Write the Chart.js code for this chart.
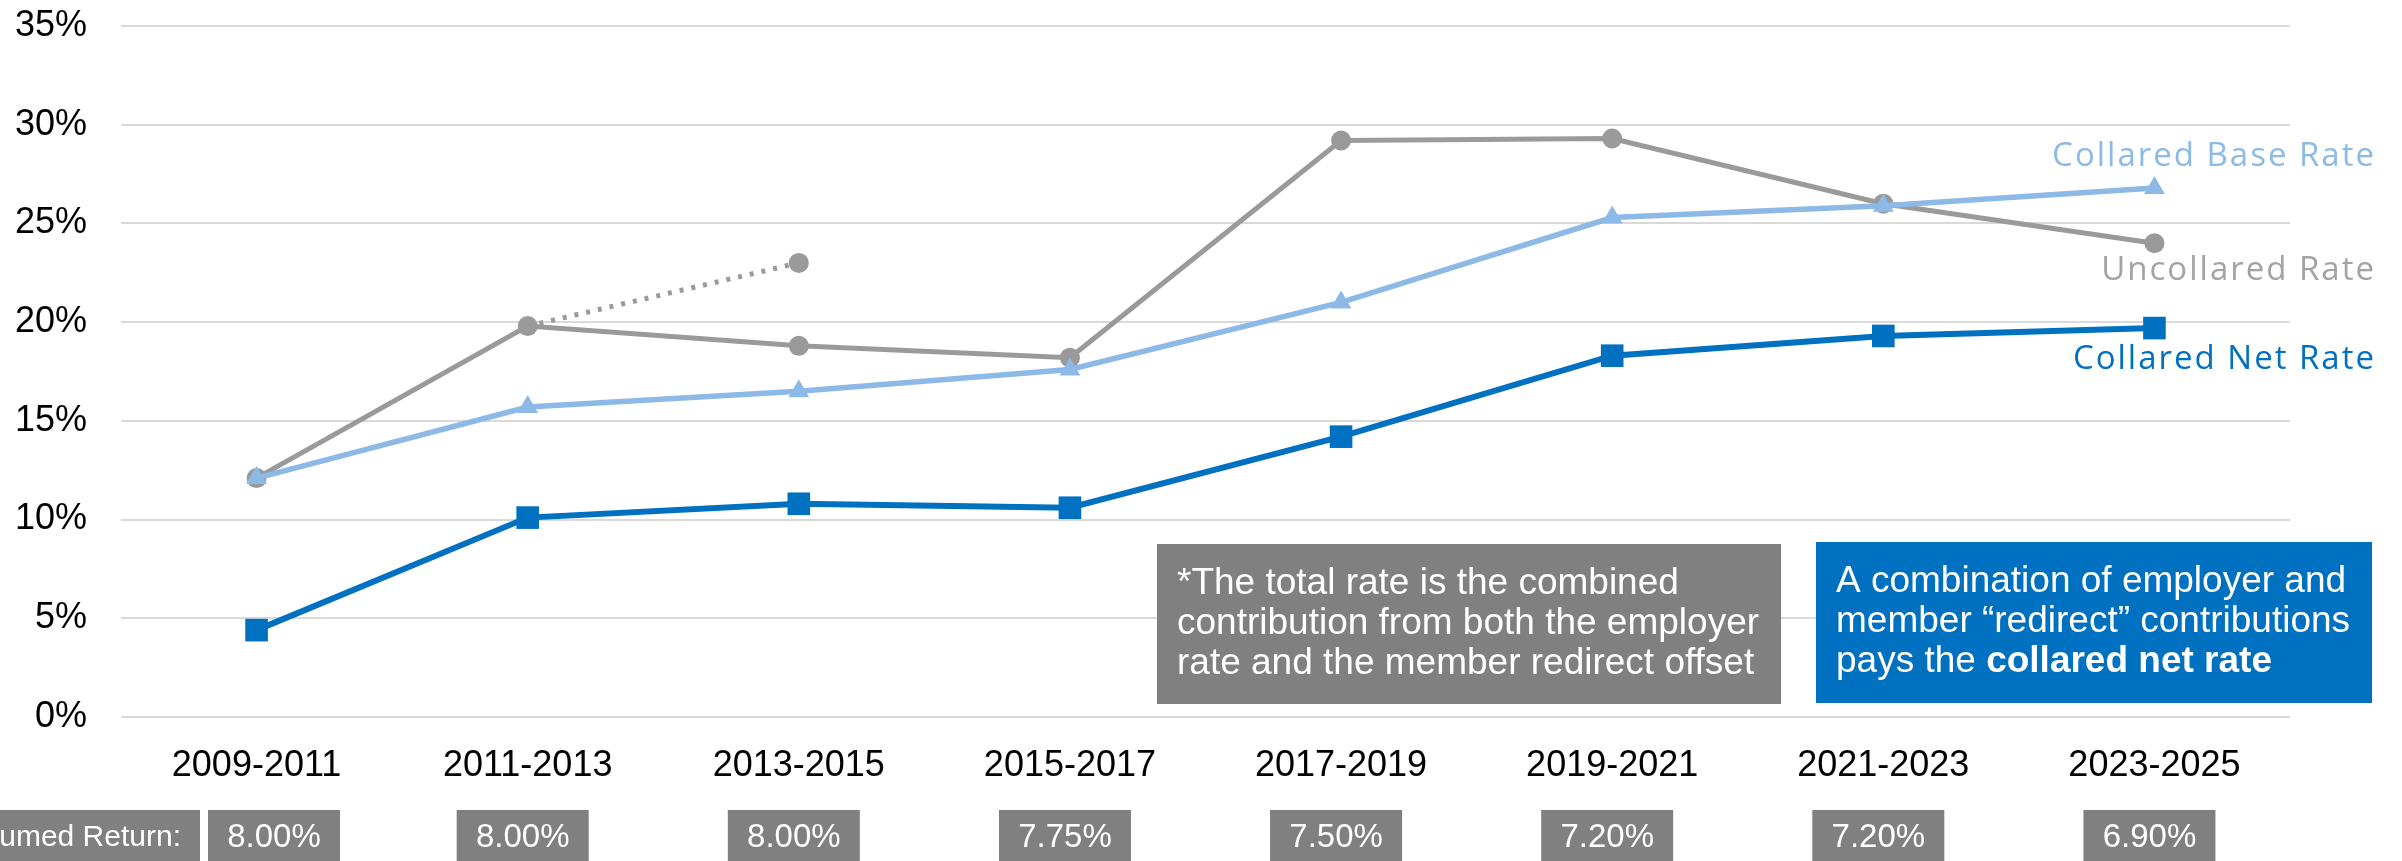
<!DOCTYPE html>
<html>
<head>
<meta charset="utf-8">
<script src="https://cdn.jsdelivr.net/npm/chart.js@4.4.1/dist/chart.umd.min.js"></script>
<style>
  html, body { margin: 0; padding: 0; background: #fff; }
  #wrap { width: 2402px; height: 861px; }
</style>
</head>
<body>
<div id="wrap"><canvas id="chart" width="2402" height="861"></canvas></div>
<script>
const periods = ['2009-2011', '2011-2013', '2013-2015', '2015-2017', '2017-2019', '2019-2021', '2021-2023', '2023-2025'];

// contribution rates, % of payroll
const uncollaredRate = [12.1, 19.8, 18.8, 18.2, 29.2, 29.3, 26.0, 24.0];
const uncollaredProjected = [null, 19.8, 23.0, null, null, null, null, null];
const collaredBaseRate = [12.1, 15.7, 16.5, 17.6, 21.0, 25.3, 25.9, 26.8];
const collaredNetRate = [4.4, 10.1, 10.8, 10.6, 14.2, 18.3, 19.3, 19.7];

const assumedReturns = ['8.00%', '8.00%', '8.00%', '7.75%', '7.50%', '7.20%', '7.20%', '6.90%'];
const returnRowLabel = 'Assumed Return:';

const totalRateNote = [
    '*The total rate is the combined',
    'contribution from both the employer',
    'rate and the member redirect offset'
];
const netRateNote = [
    [['A combination of employer and', false]],
    [['member \u201credirect\u201d contributions', false]],
    [['pays the ', false], ['collared net rate', true]]
];

const ARIAL = "'Liberation Sans', Arial, sans-serif";
const DARK_BLUE = '#0070C0';
const LIGHT_BLUE = '#8DB9E6';
const GREY = '#9A9A9A';
const BOX_GREY = '#808080';

function drawNote(ctx, box, lines, fill, size) {
    ctx.save();
    ctx.fillStyle = fill;
    ctx.fillRect(box.x, box.y, box.w, box.h);
    ctx.fillStyle = '#fff';
    ctx.textAlign = 'left';
    ctx.textBaseline = 'alphabetic';
    lines.forEach((parts, i) => {
        let x = box.x + box.pad;
        const y = box.y + box.first + i * 40;
        parts.forEach(([text, bold]) => {
            ctx.font = (bold ? 'bold ' : '') + size + 'px ' + ARIAL;
            ctx.fillText(text, x, y);
            x += ctx.measureText(text).width;
        });
    });
    ctx.restore();
}

const overlay = {
    id: 'overlay',
    afterDatasetsDraw(chart) {
        const ctx = chart.ctx;
        const area = chart.chartArea;
        const xs = chart.scales.x;

        // series names next to the last point of each line
        ctx.save();
        ctx.textAlign = 'right';
        ctx.textBaseline = 'alphabetic';
        ctx.font = "33px 'Open Sans', sans-serif";
        ctx.letterSpacing = '2px';
        chart.data.datasets.forEach((ds, i) => {
            if (!ds.endLabel) return;
            const pts = chart.getDatasetMeta(i).data;
            const last = pts[pts.length - 1];
            ctx.fillStyle = ds.endLabel.color;
            ctx.fillText(ds.endLabel.text, area.right + 86, last.y + ds.endLabel.dy);
        });
        ctx.restore();

        // explanatory notes
        drawNote(ctx, { x: 1157, y: 544, w: 624, h: 160, pad: 20, first: 50 },
            totalRateNote.map(t => [[t, false]]), BOX_GREY, 37);
        drawNote(ctx, { x: 1816, y: 542, w: 556, h: 161, pad: 20, first: 50 },
            netRateNote, DARK_BLUE, 37);

        // assumed return row under the axis
        const rowTop = 810, boxW = 132;
        ctx.save();
        ctx.textBaseline = 'alphabetic';
        ctx.fillStyle = BOX_GREY;
        ctx.fillRect(0, rowTop, 200, 60);
        ctx.fillStyle = '#fff';
        ctx.textAlign = 'right';
        ctx.font = '30px ' + ARIAL;
        ctx.fillText(returnRowLabel, 181, rowTop + 36);
        ctx.font = '33px ' + ARIAL;
        ctx.textAlign = 'center';
        let prevRight = 200;
        assumedReturns.forEach((r, i) => {
            const cx = Math.max(xs.getPixelForValue(i) - 5, prevRight + 8 + boxW / 2);
            ctx.fillStyle = BOX_GREY;
            ctx.fillRect(cx - boxW / 2, rowTop, boxW, 60);
            ctx.fillStyle = '#fff';
            ctx.fillText(r, cx, rowTop + 37);
            prevRight = cx + boxW / 2;
        });
        ctx.restore();
    }
};

const tickFont = { family: ARIAL, size: 36 };

new Chart(document.getElementById('chart').getContext('2d'), {
    type: 'line',
    data: {
        labels: periods,
        datasets: [
            {
                label: 'Collared Net Rate',
                data: collaredNetRate,
                borderColor: DARK_BLUE,
                backgroundColor: DARK_BLUE,
                borderWidth: 6,
                pointStyle: 'rect',
                pointRadius: 16,
                pointBorderWidth: 0,
                order: 1,
                endLabel: { text: 'Collared Net Rate', color: DARK_BLUE, dy: 41 }
            },
            {
                label: 'Collared Base Rate',
                data: collaredBaseRate,
                borderColor: LIGHT_BLUE,
                backgroundColor: LIGHT_BLUE,
                borderWidth: 5.5,
                pointStyle: 'triangle',
                pointRadius: 12,
                pointBorderWidth: 0,
                order: 2,
                endLabel: { text: 'Collared Base Rate', color: LIGHT_BLUE, dy: -22 }
            },
            {
                label: 'Uncollared Rate',
                data: uncollaredRate,
                borderColor: GREY,
                backgroundColor: GREY,
                borderWidth: 5,
                pointStyle: 'circle',
                pointRadius: 10,
                pointBorderWidth: 0,
                order: 3,
                endLabel: { text: 'Uncollared Rate', color: '#A3A3A3', dy: 37 }
            },
            {
                label: 'Uncollared Rate (prior projection)',
                data: uncollaredProjected,
                borderColor: GREY,
                backgroundColor: GREY,
                borderWidth: 5,
                borderDash: [4, 8],
                pointStyle: 'circle',
                pointRadius: c => (c.dataIndex > 0 && uncollaredProjected[c.dataIndex - 1] !== null) ? 10 : 0,
                pointBorderWidth: 0,
                spanGaps: false,
                order: 4
            }
        ]
    },
    options: {
        responsive: false,
        devicePixelRatio: 1,
        animation: false,
        layout: { padding: { top: 26, right: 112, bottom: 0, left: 0 } },
        plugins: {
            legend: { display: false },
            tooltip: { enabled: false }
        },
        scales: {
            x: {
                offset: true,
                grid: { display: false },
                border: { display: false },
                ticks: { font: tickFont, color: '#000', padding: 19, maxRotation: 0, autoSkip: false },
                afterFit: s => { s.height = 144; }
            },
            y: {
                min: 0,
                max: 35,
                ticks: { stepSize: 5, font: tickFont, color: '#000', padding: 34, callback: v => v + '%' },
                grid: { color: '#D9D9D9', lineWidth: 2, drawTicks: false },
                border: { display: false },
                afterFit: s => { s.width = 121; s.paddingTop = 0; s.paddingBottom = 0; }
            }
        }
    },
    plugins: [overlay]
});
</script>
</body>
</html>
